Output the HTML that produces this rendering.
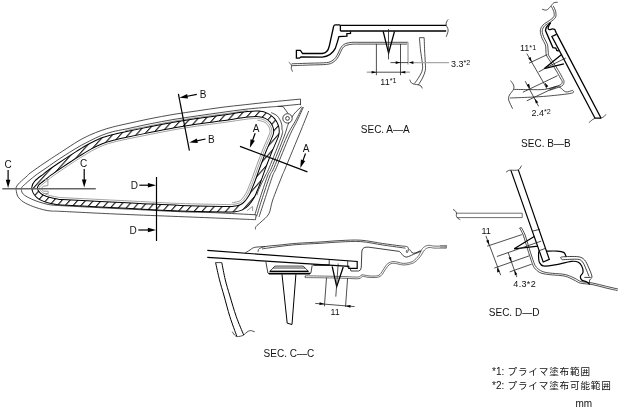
<!DOCTYPE html>
<html><head><meta charset="utf-8"><title>Quarter window glass sections</title>
<style>
html,body{margin:0;padding:0;background:#fff;}
body{width:622px;height:413px;overflow:hidden;font-family:"Liberation Sans","Noto Sans CJK JP",sans-serif;}
svg{display:block;position:absolute;left:0;top:0;will-change:transform}
svg text{font-family:"Liberation Sans","Noto Sans CJK JP",sans-serif;fill:#111;}
.k{fill:none;stroke:#111;stroke-width:.8}
.t{fill:none;stroke:#222;stroke-width:.8}
.g{fill:none;stroke:#888;stroke-width:1.1}
.b{fill:none;stroke:#000;stroke-width:1.3}
.a{fill:#000;stroke:none}
.gi{fill:none;stroke:#999;stroke-width:.9}
.t3{fill:none;stroke:#333;stroke-width:.7}
.g3{fill:none;stroke:#a8a8a8;stroke-width:1.4}
.t2{fill:none;stroke:#555;stroke-width:.6}
.k1{fill:none;stroke:#000;stroke-width:1}
.g2{fill:none;stroke:#999;stroke-width:1}
.k2{fill:none;stroke:#000;stroke-width:1.2}
.s{fill:none;stroke:#666;stroke-width:1.5}
.w{fill:#fff;stroke:#111;stroke-width:.8}
</style></head><body>
<svg width="622" height="413" viewBox="0 0 622 413">
<defs>
<pattern id="hatch" patternUnits="userSpaceOnUse" width="7.89" height="8" patternTransform="skewX(-41.7)">
<rect width="7.89" height="8" fill="#fff"/><rect x="3.1" y="0" width="1.35" height="8" fill="#000"/>
</pattern>
</defs>
<path class="t" d="M300.5 99.1 C295.42 99.58 279.22 101.07 270 102 C260.78 102.93 253.2 103.82 245.2 104.7 C237.2 105.58 230 106.27 222 107.3 C214 108.33 205.2 109.73 197.2 110.9 C189.2 112.07 182 112.97 174 114.3 C166 115.63 157.2 117.29 149.2 118.9 C141.2 120.51 132.07 122.6 126 123.95 C119.93 125.3 116.93 125.91 112.8 127 C108.67 128.09 105.07 129.13 101.2 130.5 C97.33 131.87 93.47 133.42 89.6 135.2 C85.73 136.98 82.52 138.53 78 141.2 C73.48 143.87 66.88 148.37 62.5 151.2 C58.12 154.03 55.32 155.82 51.7 158.2 C48.08 160.58 44.42 163 40.8 165.5 C37.18 168 32.23 171.5 30 173.2 C27.77 174.9 29.13 174.12 27.4 175.7 C25.67 177.28 21.45 180.82 19.6 182.7 C17.75 184.58 16.87 185.73 16.3 187 C15.73 188.27 15.93 188.72 16.2 190.3 C16.47 191.88 16.72 194.57 17.9 196.5 C19.08 198.43 20.73 200.22 23.3 201.9 C25.87 203.58 29.68 205.23 33.3 206.6 C36.92 207.97 41.77 209.35 45 210.1 C48.23 210.85 49.87 210.88 52.7 211.1 C55.53 211.32 50.78 210.88 62 211.4 C73.22 211.92 93.67 213.07 120 214.2 C146.33 215.33 197.42 217.28 220 218.2 C242.58 219.12 249.58 219.45 255.5 219.7"/>
<path class="t" d="M300.5 104.2 C296.7 104.57 282.78 105.93 277.7 106.4 C272.62 106.87 275.42 106.52 270 107 C264.58 107.48 253.2 108.4 245.2 109.3 C237.2 110.2 230 111.3 222 112.4 C214 113.5 205.2 114.73 197.2 115.9 C189.2 117.07 182 118.05 174 119.4 C166 120.75 157.2 122.4 149.2 124 C141.2 125.6 132.07 127.72 126 129 C119.93 130.28 116.93 130.62 112.8 131.7 C108.67 132.78 105.07 133.95 101.2 135.5 C97.33 137.05 93.47 139.05 89.6 141 C85.73 142.95 82.77 144.4 78 147.2 C73.23 150 66.33 154.32 61 157.8 C55.67 161.28 50.32 165.12 46 168.1 C41.68 171.08 38.47 173.13 35.1 175.7 C31.73 178.27 28.03 181.53 25.8 183.5 C23.57 185.47 22.43 186.37 21.7 187.5 C20.97 188.63 21.13 189.18 21.4 190.3 C21.67 191.42 21.95 192.9 23.3 194.2 C24.65 195.5 26.92 196.82 29.5 198.1 C32.08 199.38 35.58 200.82 38.8 201.9 C42.02 202.98 45.83 204.02 48.8 204.6 C51.77 205.18 54.4 205.22 56.6 205.4 C58.8 205.58 54.77 205.32 62 205.7 C69.23 206.08 87 207.03 100 207.7 C113 208.37 126.67 209.03 140 209.7 C153.33 210.37 167.5 211.2 180 211.7 C192.5 212.2 202.3 212.18 215 212.7 C227.7 213.22 249.33 214.45 256.2 214.8"/>
<path class="t" d="M300.5 99.1 L300.5 105.2"/>
<path class="t" d="M277.7 106.4 L283.1 106.6 L287.9 113.2"/>
<path class="t" d="M256.2 214.8 L255.5 219.7"/>
<path class="gi" d="M91.84 150.83 C95.59 148.79 99.24 146.93 102.93 145.47 C106.63 144 110 143.1 114.01 142.04 C118.02 140.98 120.96 140.37 126.97 139.1 C132.99 137.83 142.14 135.99 150.11 134.41 C158.09 132.83 166.86 131.04 174.82 129.63 C182.78 128.22 189.91 127.11 197.88 125.95 C205.85 124.79 214.2 123.82 222.64 122.66 C231.08 121.49 242.53 119.65 248.52 118.97 C254.51 118.29 255.94 118.39 258.6 118.58 C261.25 118.78 262.76 119.33 264.46 120.14 C266.16 120.94 267.66 122.14 268.79 123.43 C269.92 124.72 270.75 126.67 271.24 127.85 C271.72 129.03 271.71 129.4 271.7 130.5 C271.69 131.6 272.34 131.23 271.17 134.44 C269.99 137.64 266.77 144.47 264.64 149.74 C262.51 155.01 260.28 160.96 258.39 166.07 C256.5 171.17 254.65 176.72 253.3 180.36 C251.94 183.99 251.25 185.54 250.27 187.87 C249.29 190.2 248.63 192.25 247.44 194.33 C246.24 196.41 244.41 198.92 243.1 200.36 C241.78 201.8 241.22 202.3 239.56 202.98 C237.89 203.65 235.67 204.17 233.09 204.43 C230.51 204.68 232.9 204.65 224.08 204.5 C215.26 204.35 194.14 204 180.17 203.5 C166.19 203 153.56 202.17 140.23 201.51 C126.91 200.84 113.23 200.16 100.23 199.51 C87.24 198.86 69.34 198 62.26 197.61 C55.18 197.22 59.66 197.47 57.74 197.16 C55.82 196.85 52.96 196.37 50.75 195.77 C48.54 195.17 46 194.21 44.48 193.54 C42.96 192.86 42.42 192.38 41.64 191.7 C40.86 191.03 40.19 190.05 39.79 189.48 C39.39 188.9 39.13 188.82 39.24 188.24 C39.35 187.66 39.03 187.34 40.45 186 C41.86 184.65 45.81 181.71 47.75 180.16 C49.68 178.61 49.4 178.62 52.05 176.71 C54.7 174.8 60.19 171.03 63.64 168.69 C67.09 166.34 69.96 164.47 72.77 162.64 C75.57 160.8 77.29 159.66 80.47 157.7 C83.65 155.73 88.1 152.87 91.84 150.83Z"/>
<path class="t2" d="M257.33 120.18 C258.38 120.44 261.99 121.02 263.68 121.76 C265.37 122.5 266.47 123.5 267.45 124.63 C268.43 125.76 269.16 127.55 269.57 128.52 C269.98 129.5 269.92 129.61 269.9 130.5 C269.88 131.39 270.62 130.75 269.47 133.84 C268.31 136.93 265.1 143.8 262.97 149.07 C260.85 154.33 258.6 160.33 256.7 165.44 C254.81 170.55 252.96 176.11 251.61 179.73 C250.26 183.35 249.57 184.89 248.61 187.17 C247.66 189.46 247.02 191.44 245.88 193.43 C244.75 195.42 242.97 197.8 241.79 199.12 C240.62 200.43 240.46 200.71 238.85 201.32 C237.24 201.93 233.26 202.53 232.14 202.77"/>
<path class="t2" d="M125.25 130.78 C129.11 129.99 140.45 127.66 148.46 126.07 C156.48 124.49 165.31 122.68 173.34 121.26 C181.37 119.84 188.63 118.71 196.65 117.54 C204.68 116.37 213.01 115.4 221.48 114.24 C229.95 113.07 243.13 111.15 247.46 110.54"/>
<path class="k" d="M89.6 146.7 C93.47 144.6 97.33 142.63 101.2 141.1 C105.07 139.57 108.67 138.6 112.8 137.5 C116.93 136.4 119.93 135.78 126 134.5 C132.07 133.22 141.2 131.38 149.2 129.8 C157.2 128.22 166 126.42 174 125 C182 123.58 189.2 122.47 197.2 121.3 C205.2 120.13 213.53 119.17 222 118 C230.47 116.83 241.83 114.98 248 114.3 C254.17 113.62 255.92 113.63 259 113.9 C262.08 114.17 264.28 114.83 266.5 115.9 C268.72 116.97 270.78 118.6 272.3 120.3 C273.82 122 274.92 124.4 275.6 126.1 C276.28 127.8 276.4 128.85 276.4 130.5 C276.4 132.15 276.83 132.5 275.6 136 C274.37 139.5 271.13 146.22 269 151.5 C266.87 156.78 264.68 162.62 262.8 167.7 C260.92 172.78 259.07 178.33 257.7 182 C256.33 185.67 255.63 187.25 254.6 189.7 C253.57 192.15 252.85 194.38 251.5 196.7 C250.15 199.02 248.18 201.83 246.5 203.6 C244.82 205.37 243.55 206.38 241.4 207.3 C239.25 208.22 236.5 208.78 233.6 209.1 C230.7 209.42 232.93 209.35 224 209.2 C215.07 209.05 194 208.7 180 208.2 C166 207.7 153.33 206.87 140 206.2 C126.67 205.53 113 204.85 100 204.2 C87 203.55 69.17 202.7 62 202.3 C54.83 201.9 59.08 202.13 57 201.8 C54.92 201.47 51.92 200.97 49.5 200.3 C47.08 199.63 44.33 198.65 42.5 197.8 C40.67 196.95 39.65 196.23 38.5 195.2 C37.35 194.17 36.25 192.88 35.6 191.6 C34.95 190.32 34.37 188.97 34.6 187.5 C34.83 186.03 35.3 184.63 37 182.8 C38.7 180.97 42.75 178.15 44.8 176.5 C46.85 174.85 46.6 174.85 49.3 172.9 C52 170.95 57.52 167.17 61 164.8 C64.48 162.43 67.37 160.55 70.2 158.7 C73.03 156.85 74.77 155.7 78 153.7 C81.23 151.7 85.73 148.8 89.6 146.7Z" style="stroke:#000;stroke-width:6.6"/>
<path class="k" d="M89.6 146.7 C93.47 144.6 97.33 142.63 101.2 141.1 C105.07 139.57 108.67 138.6 112.8 137.5 C116.93 136.4 119.93 135.78 126 134.5 C132.07 133.22 141.2 131.38 149.2 129.8 C157.2 128.22 166 126.42 174 125 C182 123.58 189.2 122.47 197.2 121.3 C205.2 120.13 213.53 119.17 222 118 C230.47 116.83 241.83 114.98 248 114.3 C254.17 113.62 255.92 113.63 259 113.9 C262.08 114.17 264.28 114.83 266.5 115.9 C268.72 116.97 270.78 118.6 272.3 120.3 C273.82 122 274.92 124.4 275.6 126.1 C276.28 127.8 276.4 128.85 276.4 130.5 C276.4 132.15 276.83 132.5 275.6 136 C274.37 139.5 271.13 146.22 269 151.5 C266.87 156.78 264.68 162.62 262.8 167.7 C260.92 172.78 259.07 178.33 257.7 182 C256.33 185.67 255.63 187.25 254.6 189.7 C253.57 192.15 252.85 194.38 251.5 196.7 C250.15 199.02 248.18 201.83 246.5 203.6 C244.82 205.37 243.55 206.38 241.4 207.3 C239.25 208.22 236.5 208.78 233.6 209.1 C230.7 209.42 232.93 209.35 224 209.2 C215.07 209.05 194 208.7 180 208.2 C166 207.7 153.33 206.87 140 206.2 C126.67 205.53 113 204.85 100 204.2 C87 203.55 69.17 202.7 62 202.3 C54.83 201.9 59.08 202.13 57 201.8 C54.92 201.47 51.92 200.97 49.5 200.3 C47.08 199.63 44.33 198.65 42.5 197.8 C40.67 196.95 39.65 196.23 38.5 195.2 C37.35 194.17 36.25 192.88 35.6 191.6 C34.95 190.32 34.37 188.97 34.6 187.5 C34.83 186.03 35.3 184.63 37 182.8 C38.7 180.97 42.75 178.15 44.8 176.5 C46.85 174.85 46.6 174.85 49.3 172.9 C52 170.95 57.52 167.17 61 164.8 C64.48 162.43 67.37 160.55 70.2 158.7 C73.03 156.85 74.77 155.7 78 153.7 C81.23 151.7 85.73 148.8 89.6 146.7Z" style="stroke:url(#hatch);stroke-width:4.6"/>
<path class="g2" d="M45.2 179.6 L47.9 179.6 L47.9 185.6 L43.2 186.2 L41.3 188.5 L43.2 191.2 L48.2 191.2 L48.2 193.5 L43.6 193.5"/>
<path class="g2" d="M247.2 210.6 L252.6 206.4 L252.6 211"/>
<path class="t" d="M271.2 112.6 C272.23 113.18 275.72 114.37 277.4 116.1 C279.08 117.83 280.53 120.82 281.3 123 C282.07 125.18 281.95 127.03 282 129.2 C282.05 131.37 283.73 129.58 281.6 136 C279.47 142.42 271.93 161.03 269.2 167.7 C266.47 174.37 266.98 172.28 265.2 176 C263.42 179.72 259.87 186.8 258.5 190 C257.13 193.2 257.25 194.33 257 195.2"/>
<path class="t" d="M301.5 106.6 C300.2 107.9 295.92 111.47 293.7 114.4 C291.48 117.33 289.77 120.6 288.2 124.2 C286.63 127.8 287.07 128.75 284.3 136 C281.53 143.25 274.4 161.03 271.6 167.7 C268.8 174.37 269.53 170.62 267.5 176 C265.47 181.38 261.48 193.58 259.4 200 C257.32 206.42 255.73 212.08 255 214.5"/>
<path class="t" d="M302.4 107.1 C301.33 109.23 298.57 115.08 296 119.9 C293.43 124.72 290.67 128.03 287 136 C283.33 143.97 276.87 161.03 274 167.7 C271.13 174.37 271.85 170.62 269.8 176 C267.75 181.38 263.8 193.58 261.7 200 C259.6 206.42 258.02 211.83 257.2 214.5 C256.38 217.17 256.87 215.75 256.8 216"/>
<path class="t" d="M303.4 107.1 C302.43 109.23 299.92 115.08 297.6 119.9 C295.28 124.72 293.03 128.03 289.5 136 C285.97 143.97 279.23 161.03 276.4 167.7 C273.57 174.37 274.47 170.62 272.5 176 C270.53 181.38 266.68 193.67 264.6 200 C262.52 206.33 260.93 211.17 260 214 C259.07 216.83 259.17 216.5 259 217"/>
<path class="t" d="M308.7 111 C307.43 114.17 305.05 120.33 301.1 130 C297.15 139.67 288.18 161.33 285 169 C281.82 176.67 284.05 170.83 282 176 C279.95 181.17 274.88 193.72 272.7 200 C270.52 206.28 270.85 210.03 268.9 213.7 C266.95 217.37 263.15 219.87 261 222 C258.85 224.13 256.92 225.27 256 226.5 C255.08 227.73 255.58 228.92 255.5 229.4"/>
<circle class="w" cx="287.5" cy="118.4" r="4.7"/>
<circle class="w" cx="287.5" cy="118.4" r="1.9"/>
<path class="s" d="M2.3 188.8 L95.8 188.8"/>
<path class="k2" d="M178.4 93.9 L189.4 150.6"/>
<path class="k2" d="M240 146.4 L307.4 171.9"/>
<path class="k2" d="M156.5 177 L156.5 241"/>
<path class="b" d="M340.4 25.3 L446.2 25.3"/>
<path class="b" d="M340.4 31 L446.2 31"/>
<path class="b" d="M340.4 31 L340.4 26.4 Q340.3 24.8 339.3 24.8 L335.5 24.8 Q333.9 24.8 333.6 26.5 L330.2 42 L329.3 46 Q327.8 53 322.2 53.5 L302.6 53.5 L300.4 50.3 L296.4 50.3 L296.4 58.2 L299.3 58.2 L301.1 56.9 L322.2 57.1 Q331 56.5 335.3 48.4 Q337.5 42 338.9 36.6 L346.9 36.2 L346.9 33.7 L350.5 33.4 L350.5 31.2"/>
<path class="t" d="M291.7 63.8 C294.75 63.7 304.18 63.4 310 63.2 C315.82 63 322.93 63 326.6 62.6 C330.27 62.2 330.48 61.65 332 60.8 C333.52 59.95 334.67 58.8 335.7 57.5 C336.73 56.2 337.45 54.45 338.2 53 C338.95 51.55 339.48 50.03 340.2 48.8 C340.92 47.57 341.6 46.47 342.5 45.6 C343.4 44.73 344.15 44.13 345.6 43.6 C347.05 43.07 349.13 42.62 351.2 42.4 C353.27 42.18 356.87 42.32 358 42.3 L408 42.3"/>
<path class="t" d="M291.7 65.7 C294.75 65.58 304.18 65.22 310 65 C315.82 64.78 322.77 64.83 326.6 64.4 C330.43 63.97 331.27 63.37 333 62.4 C334.73 61.43 335.88 60 337 58.6 C338.12 57.2 338.93 55.45 339.7 54 C340.47 52.55 340.92 51.1 341.6 49.9 C342.28 48.7 342.93 47.58 343.8 46.8 C344.67 46.02 345.43 45.63 346.8 45.2 C348.17 44.77 350.13 44.38 352 44.2 C353.87 44.02 357 44.12 358 44.1 L407.2 44.1"/>
<path class="t" d="M288.8 62.2 C289.08 62.47 290.05 63.25 290.5 63.8 C290.95 64.35 291.37 64.72 291.5 65.5 C291.63 66.28 291.12 67.48 291.3 68.5 C291.48 69.52 292.38 71.08 292.6 71.6"/>
<path class="g3" d="M408 42.3 L408 64.6"/>
<path class="t" d="M419.4 37.7 C419.58 39.75 420.02 45.78 420.5 50 C420.98 54.22 422 59.67 422.3 63 C422.6 66.33 422.85 67.67 422.3 70 C421.75 72.33 420.3 74.75 419 77 C417.7 79.25 415.25 82.42 414.5 83.5"/>
<path class="t" d="M424.2 37.7 C424.27 39.75 424.42 45.78 424.6 50 C424.78 54.22 425.18 59.58 425.3 63 C425.42 66.42 425.77 68 425.3 70.5 C424.83 73 423.65 75.6 422.5 78 C421.35 80.4 419.08 83.75 418.4 84.9"/>
<path class="t" d="M419.4 37.7 L424.2 37.7"/>
<path class="t" d="M409.7 79.7 C410 80.25 410.7 82.25 411.5 83 C412.3 83.75 413.35 83.88 414.5 84.2 C415.65 84.52 417.32 84.6 418.4 84.9 C419.48 85.2 420.35 85.42 421 86 C421.65 86.58 422.08 88 422.3 88.4"/>
<path class="t" d="M448.2 19.4 C447.92 19.83 446.83 21.02 446.5 22 C446.17 22.98 445.98 24.22 446.2 25.3 C446.42 26.38 447.5 27.47 447.8 28.5 C448.1 29.53 448.27 30.12 448 31.5 C447.73 32.88 446.5 35.92 446.2 36.8"/>
<path class="b" d="M383.2 31.4 L388.6 53.2 L394.5 31.4"/>
<path class="t" d="M388.5 29 L388.5 59.3"/>
<path class="t" d="M376.4 44 L376.4 75.2"/>
<path class="t" d="M400.5 44 L400.5 75.2"/>
<path class="g3" d="M366.8 72.2 L372 72.2"/>
<path class="t" d="M372 72.2 L405 72.2"/>
<path class="g3" d="M405 72.2 L409.9 72.2"/>
<path class="a" d="M376.4 72.2 L371.6 73.5 L371.6 70.9Z"/>
<path class="a" d="M400.5 72.2 L405.3 70.9 L405.3 73.5Z"/>
<path class="t" d="M390.5 62.6 L408 62.6"/>
<path class="g3" d="M412.5 62.6 L449 62.6"/>
<path class="a" d="M400.5 62.6 L395.7 63.9 L395.7 61.3Z"/>
<path class="a" d="M408.6 62.6 L413.4 61.3 L413.4 63.9Z"/>
<path class="t" d="M542.2 9.3 C542.95 9.42 545.3 10.48 546.7 10 C548.1 9.52 549.42 7.6 550.6 6.4 C551.78 5.2 552.62 3.48 553.8 2.8 C554.98 2.12 557.05 2.38 557.7 2.3"/>
<path class="t" d="M551.2 6.2 C551.63 7.1 553.37 9.85 553.8 11.6 C554.23 13.35 554.55 15.2 553.8 16.7 C553.05 18.2 551.12 19.2 549.3 20.6 C547.48 22 544.4 23.38 542.9 25.1 C541.4 26.82 540.42 28.65 540.3 30.9 C540.18 33.15 541.35 36.25 542.2 38.6 C543.05 40.95 544.77 42.65 545.4 45 C546.03 47.35 545.77 50.87 546 52.7 C546.23 54.53 545.92 54.28 546.8 56 C547.68 57.72 549.7 60.5 551.3 63 C552.9 65.5 554.9 68.5 556.4 71 C557.9 73.5 559.33 76.25 560.3 78 C561.27 79.75 562.08 80.43 562.2 81.5 C562.32 82.57 561.97 83.6 561 84.4 C560.03 85.2 558.45 85.55 556.4 86.3 C554.35 87.05 549.98 88.47 548.7 88.9"/>
<path class="t" d="M553.2 5.8 C553.62 6.77 555.32 9.67 555.7 11.6 C556.08 13.53 556.35 15.68 555.5 17.4 C554.65 19.12 552.38 20.52 550.6 21.9 C548.82 23.28 546.2 24.2 544.8 25.7 C543.4 27.2 542.32 28.87 542.2 30.9 C542.08 32.93 543.23 35.65 544.1 37.9 C544.97 40.15 546.7 41.93 547.4 44.4 C548.1 46.87 548.03 50.77 548.3 52.7 C548.57 54.63 548.17 54.37 549 56 C549.83 57.63 551.73 60.08 553.3 62.5 C554.87 64.92 556.9 68 558.4 70.5 C559.9 73 561.37 75.67 562.3 77.5 C563.23 79.33 563.97 80.17 564 81.5 C564.03 82.83 563.67 84.45 562.5 85.5 C561.33 86.55 559.17 87.02 557 87.8 C554.83 88.58 550.75 89.8 549.5 90.2"/>
<path class="b" d="M550.8 22.5 C550.47 23.05 549.25 24.8 548.8 25.8 C548.35 26.8 547.98 27.85 548.1 28.5 C548.22 29.15 548.78 29.63 549.5 29.7 C550.22 29.77 551.52 28.93 552.4 28.9 C553.28 28.87 554.4 29.4 554.8 29.5 L556.1 32.6 L601.1 118.2"/>
<path class="b" d="M550.5 22.9 C549.85 23.55 547.43 25.52 546.6 26.8 C545.77 28.08 545.68 29.97 545.5 30.6 L552.9 47.6 L555.8 48.1 L556.8 50.5 L558.7 51"/>
<path class="b" d="M556.5 34.3 L551.9 36.5 L595 118.2 L601.1 118.2"/>
<path class="t" d="M588.9 122.7 C589.53 122.17 591.63 120.25 592.7 119.5 C593.77 118.75 594.87 118.42 595.3 118.2"/>
<path class="t" d="M601.1 118.2 C601.63 117.88 603.5 116.93 604.3 116.3 C605.1 115.67 605.63 114.72 605.9 114.4"/>
<path class="b" d="M561.9 54.2 L544.1 68.7 L563.9 63.9"/>
<path class="t" d="M544.1 68.7 L565.8 58"/>
<path class="t" d="M529 63.2 L547.4 54.5"/>
<path class="t" d="M538.7 71.9 L544 69"/>
<path class="t" d="M522.9 92.2 L557.5 75.7"/>
<path class="t" d="M526.8 100.8 L556.7 86.7"/>
<path class="t" d="M526.8 53.6 L547.2 89"/>
<path class="t" d="M525.2 81.2 L538.6 106.3"/>
<path class="t" d="M510.6 80.6 C511.08 81.33 513.02 83.53 513.5 85 C513.98 86.47 514.17 87.73 513.5 89.4 C512.83 91.07 510.3 93.23 509.5 95 C508.7 96.77 508.18 97.72 508.7 100 C509.22 102.28 511.95 107.25 512.6 108.7"/>
<path class="t" d="M513.5 89.4 C516.25 89.43 524.83 89.6 530 89.6 C535.17 89.6 540.17 89.92 544.5 89.4 C548.83 88.88 554.08 86.98 556 86.5"/>
<path class="t" d="M556 86.5 C556.67 86.65 558.37 86.5 560 87.4 C561.63 88.3 563.7 91.42 565.8 91.9 C567.9 92.38 571.47 90.57 572.6 90.3"/>
<path class="t" d="M509.7 98 C513.08 97.87 523.55 97.53 530 97.2 C536.45 96.87 541.47 96.67 548.4 96 C555.33 95.33 567.57 94.15 571.6 93.2 C575.63 92.25 572.43 90.78 572.6 90.3"/>
<path class="k2" d="M207.3 250.4 L357.2 261.5 L357.2 268.3 L348.8 268.3 L348.8 266.3 L329.4 265.1 L313.3 265.1"/>
<path class="k2" d="M207.3 257.3 L329.4 265.1"/>
<path class="k" d="M329.2 259.5 L329.2 265.5"/>
<path class="k" d="M347.7 260.8 L347.7 267.6"/>
<path class="t" d="M244.8 253.2 C245.67 252.67 248.38 250.97 250 250 C251.62 249.03 251.93 247.98 254.5 247.4 C257.07 246.82 263.58 246.65 265.4 246.5"/>
<path class="t" d="M258.1 251.8 C258.13 251.5 258.02 250.57 258.3 250 C258.58 249.43 258.62 248.98 259.8 248.4 C260.98 247.82 262.03 247.07 265.4 246.5 C268.77 245.93 274.75 245.53 280 245 C285.25 244.47 290.23 243.8 296.9 243.3 C303.57 242.8 312.82 242.45 320 242 C327.18 241.55 333.18 240.9 340 240.6 C346.82 240.3 353.78 239.72 360.9 240.2 C368.02 240.68 376.18 242.57 382.7 243.5 C389.22 244.43 396.03 245.3 400 245.8 C403.97 246.3 405.1 246.1 406.5 246.5 C407.9 246.9 408.15 247.45 408.4 248.2 C408.65 248.95 408.23 250.23 408 251 C407.77 251.77 407.28 252.77 407 252.8 C406.72 252.83 406.3 251.7 406.3 251.2 C406.3 250.7 406.88 250.03 407 249.8"/>
<path class="t" d="M262 248.9 C265 248.48 274.18 247.12 280 246.4 C285.82 245.68 290.23 245.12 296.9 244.6 C303.57 244.08 312.82 243.73 320 243.3 C327.18 242.87 333.18 242.28 340 242 C346.82 241.72 353.78 241.1 360.9 241.6 C368.02 242.1 376.18 244.03 382.7 245 C389.22 245.97 396.2 246.87 400 247.4 C403.8 247.93 404.58 248.07 405.5 248.2"/>
<path class="k" d="M350.2 268 L350.9 271 L358.6 271 Q361.2 270.6 361.3 267 L361.8 252 Q362 247.5 366 247.2 L368.9 247.2 L399.3 251.4 399.3 251.4 C399.67 251.75 400.85 252.78 401.5 253.5 C402.15 254.22 402.28 255.12 403.2 255.7 C404.12 256.28 405.3 257.22 407 257 C408.7 256.78 411.03 255.37 413.4 254.4 C415.77 253.43 419.9 251.73 421.2 251.2"/>
<path class="t3" d="M305.2 275.8 C308.42 275.85 317.87 275.97 324.5 276.1 C331.13 276.23 339.35 276.45 345 276.6 C350.65 276.75 355.57 277.3 358.4 277 C361.23 276.7 360.4 275 362 274.8 C363.6 274.6 365.77 275.6 368 275.8 C370.23 276 373.4 276.23 375.4 276 C377.4 275.77 378.57 275.65 380 274.4 C381.43 273.15 382.72 270.3 384 268.5 C385.28 266.7 386.22 264.77 387.7 263.6 C389.18 262.43 391.18 261.72 392.9 261.5 C394.62 261.28 396.28 261.98 398 262.3 C399.72 262.62 401.45 263.32 403.2 263.4 C404.95 263.48 406.8 263.22 408.5 262.8 C410.2 262.38 411.72 262.08 413.4 260.9 C415.08 259.72 417.1 257.75 418.6 255.7 C420.1 253.65 420.9 250.32 422.4 248.6 C423.9 246.88 425.67 245.82 427.6 245.4 C429.53 244.98 431.85 245.98 434 246.1 C436.15 246.22 438.47 246.07 440.5 246.1 C442.53 246.13 445.25 246.27 446.2 246.3"/>
<path class="t3" d="M305.2 277.6 C308.42 277.63 317.87 277.68 324.5 277.8 C331.13 277.92 339.27 278.15 345 278.3 C350.73 278.45 356 279.02 358.9 278.7 C361.8 278.38 360.88 276.63 362.4 276.4 C363.92 276.17 365.75 277.12 368 277.3 C370.25 277.48 373.7 277.78 375.9 277.5 C378.1 277.22 379.62 276.93 381.2 275.6 C382.78 274.27 384.1 271.28 385.4 269.5 C386.7 267.72 387.75 265.95 389 264.9 C390.25 263.85 391.4 263.35 392.9 263.2 C394.4 263.05 396.28 263.7 398 264 C399.72 264.3 401.37 264.95 403.2 265 C405.03 265.05 407.08 264.77 409 264.3 C410.92 263.83 412.82 263.48 414.7 262.2 C416.58 260.92 418.67 258.63 420.3 256.6 C421.93 254.57 423.05 251.52 424.5 250 C425.95 248.48 427.42 247.82 429 247.5 C430.58 247.18 432.08 248 434 248.1 C435.92 248.2 438.47 248.08 440.5 248.1 C442.53 248.12 445.25 248.18 446.2 248.2"/>
<path class="t" d="M446.2 246.3 L446.2 248.2"/>
<path class="k" d="M409.6 249.3 C409.83 249.67 410.37 250.85 411 251.5 C411.63 252.15 412.4 253.07 413.4 253.2 C414.4 253.33 415.82 252.73 417 252.3 C418.18 251.87 419.92 250.88 420.5 250.6"/>
<path class="t" d="M305.2 275.8 L305.2 277.6"/>
<path class="k1" d="M215.6 262.6 C216.25 265.48 218.08 274.33 219.5 279.9 C220.92 285.47 222.37 289.87 224.1 296 C225.83 302.13 227.78 310 229.9 316.7 C232.02 323.4 235.65 332.95 236.8 336.2"/>
<path class="k1" d="M221.8 262.6 C222.38 265.48 223.95 274.33 225.3 279.9 C226.65 285.47 228.07 289.87 229.9 296 C231.73 302.13 234 310.2 236.3 316.7 C238.6 323.2 242.47 331.95 243.7 335"/>
<path class="k" d="M215.6 262.6 L221.8 262.6"/>
<path class="t" d="M232.2 331.6 C232.58 332.17 233.73 334.17 234.5 335 C235.27 335.83 235.8 336.4 236.8 336.6 C237.8 336.8 239.35 336.47 240.5 336.2 C241.65 335.93 242.62 335.7 243.7 335 C244.78 334.3 245.87 332.73 247 332 C248.13 331.27 249.22 330.63 250.5 330.6 C251.78 330.57 254 331.6 254.7 331.8"/>
<path class="k" d="M265.9 262 L267.9 273 L269.2 274.2 L309.6 274.2 L310.9 273 L312.2 265.2"/>
<path class="k2" d="M268.6 273.4 L310.2 273.4"/>
<path class="k" d="M274.9 266.1 L303.2 266.1 L308.4 271.3 L269.8 271.3 Z"/>
<path class="k" d="M273 268 L305.1 268"/>
<path class="k2" d="M269.8 271.4 L308.4 271.4"/>
<path class="k1" d="M282 274.4 L287.2 323.2 L292 324.5 L295.9 274.4"/>
<path class="b" d="M332.2 266.3 L336.7 286.6 L343.2 267"/>
<path class="t" d="M338.2 263.5 L335.8 296.6"/>
<path class="t" d="M326.5 277.8 L324.4 306.3"/>
<path class="t" d="M347.6 278.2 L345.5 306.9"/>
<path class="t" d="M315.3 303.4 L354.6 306.6"/>
<path class="a" d="M324.4 304.1 L319.41 305.04 L319.63 302.35Z"/>
<path class="a" d="M345.6 305.9 L350.59 304.96 L350.37 307.65Z"/>
<path class="k2" d="M510.9 170.4 L543.2 262 L549.3 259.4 L518.3 169.9"/>
<path class="k" d="M538 251.1 L545.1 248.5"/>
<path class="k" d="M532.9 231 L539.9 229.3"/>
<path class="t" d="M506.1 172.2 C506.47 171.93 507.5 170.93 508.3 170.6 C509.1 170.27 509.87 170.25 510.9 170.2 C511.93 170.15 513.27 170.35 514.5 170.3 C515.73 170.25 517.35 170.28 518.3 169.9 C519.25 169.52 519.67 168.72 520.2 168 C520.73 167.28 521.28 166 521.5 165.6"/>
<path class="t" d="M453 209.5 C453.33 209.68 454.42 210.02 455 210.6 C455.58 211.18 456.28 212.18 456.5 213 C456.72 213.82 456.17 214.7 456.3 215.5 C456.43 216.3 456.63 217.08 457.3 217.8 C457.97 218.52 459.8 219.47 460.3 219.8"/>
<path class="t3" d="M456.6 213.2 L522.2 213.2 L522.2 217.6 L457 217.6"/>
<path class="g" d="M440 245.5 L446.4 245.5 L446.4 247.3 L440 247.3"/>
<path class="t" d="M519.6 228 C520.2 229.17 521.88 231.5 523.2 235 C524.52 238.5 526 244.28 527.5 249 C529 253.72 531.03 260.13 532.2 263.3 C533.37 266.47 533.32 266.5 534.5 268 C535.68 269.5 537.55 271.3 539.3 272.3 C541.05 273.3 542.85 273.57 545 274 C547.15 274.43 548.87 274.53 552.2 274.9 C555.53 275.27 561.37 275.35 565 276.2 C568.63 277.05 571.42 278.83 574 280 C576.58 281.17 577.5 282.45 580.5 283.2 C583.5 283.95 587.75 283.7 592 284.5 C596.25 285.3 601.75 286.98 606 288 C610.25 289.02 615.58 290.17 617.5 290.6"/>
<path class="t" d="M521.4 227.6 C522.02 228.83 523.78 231.5 525.1 235 C526.42 238.5 527.85 244.05 529.3 248.6 C530.75 253.15 532.65 259.23 533.8 262.3 C534.95 265.37 535.08 265.62 536.2 267 C537.32 268.38 538.95 269.7 540.5 270.6 C542.05 271.5 543.5 271.95 545.5 272.4 C547.5 272.85 549.17 272.93 552.5 273.3 C555.83 273.67 561.75 273.75 565.5 274.6 C569.25 275.45 572.38 277.23 575 278.4 C577.62 279.57 578.28 280.83 581.2 281.6 C584.12 282.37 588.28 282.2 592.5 283 C596.72 283.8 602.25 285.4 606.5 286.4 C610.75 287.4 616.08 288.57 618 289"/>
<path class="t" d="M519.6 228 L521.4 227.6"/>
<path class="k2" d="M538.7 251.4 C538.68 252.4 538.47 255.55 538.6 257.4 C538.73 259.25 538.73 261.08 539.5 262.5 C540.27 263.92 540.88 265.45 543.2 265.9 C545.52 266.35 548.7 265.95 553.4 265.2 C558.1 264.45 567.32 261.93 571.4 261.4 C575.48 260.87 576.18 261.25 577.9 262 C579.62 262.75 580.85 264.18 581.7 265.9 C582.55 267.62 583.2 270.58 583 272.3 C582.8 274.02 580.72 274.92 580.5 276.2 C580.28 277.48 580.63 279.05 581.7 280 C582.77 280.95 585.6 281.15 586.9 281.9 C588.2 282.65 589.07 284.07 589.5 284.5"/>
<path class="k2" d="M546.4 251.1 C548.22 251.1 554.42 250.88 557.3 251.1 C560.18 251.32 562.3 251.65 563.7 252.4 C565.1 253.15 565.27 254.83 565.7 255.6 C566.13 256.37 566.2 256.77 566.3 257"/>
<path class="k" d="M562.4 259.7 C562.15 259.47 560.9 258.77 560.9 258.3 C560.9 257.83 559.57 257.17 562.4 256.9 C565.23 256.63 574.22 256.2 577.9 256.7 C581.58 257.2 582.75 258.18 584.5 259.9 C586.25 261.62 587.22 264.5 588.4 267 C589.58 269.5 591.07 273.05 591.6 274.9 C592.13 276.75 591.92 277.25 591.6 278.1 C591.28 278.95 590.05 278.93 589.7 280 C589.35 281.07 589.53 283.75 589.5 284.5"/>
<path class="k" d="M562.4 259.7 C564.95 259.63 574.35 258.93 577.7 259.3 C581.05 259.67 581.17 260.42 582.5 261.9 C583.83 263.38 584.62 265.78 585.7 268.2 C586.78 270.62 588.45 275.03 589 276.4"/>
<path class="k" d="M584.3 277.4 L590.8 277.4"/>
<path class="k2" d="M534.2 236.6 L514.2 248.8 L538 246.2"/>
<path class="t" d="M487.2 246.2 L521.9 234.6"/>
<path class="t" d="M496.9 256.5 L541.2 241.1"/>
<path class="t" d="M494.3 268.1 L529 255.9"/>
<path class="t" d="M509.7 271.9 L531.6 264.2"/>
<path class="t" d="M485.9 235.9 L500.7 275.2"/>
<path class="t" d="M508.2 252.7 L516.8 277.1"/>
<text x="360.8" y="132.8" font-size="10" text-anchor="start">SEC. A—A</text>
<text x="521.1" y="146.6" font-size="10" text-anchor="start">SEC. B—B</text>
<text x="263.6" y="356.9" font-size="10" text-anchor="start">SEC. C—C</text>
<text x="488.8" y="315.9" font-size="10" text-anchor="start">SEC. D—D</text>
<text x="492" y="375" font-size="10" text-anchor="start">*1: <tspan font-size="9.6" letter-spacing="0.82" dx="0.5">プライマ塗布範囲</tspan></text>
<text x="492" y="389" font-size="10" text-anchor="start">*2: <tspan font-size="9.6" letter-spacing="0.82" dx="0.5">プライマ塗布可能範囲</tspan></text>
<text x="575.4" y="407" font-size="10" text-anchor="start">mm</text>
<text x="252.8" y="131.9" font-size="10" text-anchor="start">A</text>
<path class="k2" d="M255.2 133.2 L252.15 141.54"/>
<path class="a" d="M249.9 147.7 L250.55 139.21 L254.88 140.79Z"/>
<text x="302.8" y="151.6" font-size="10" text-anchor="start">A</text>
<path class="k2" d="M305.5 153.5 L302.51 161.83"/>
<path class="a" d="M300.3 168 L300.9 159.5 L305.23 161.06Z"/>
<text x="199.7" y="98.1" font-size="10" text-anchor="start">B</text>
<path class="k2" d="M196.8 94.4 L185.94 96.47"/>
<path class="a" d="M179.5 97.7 L187.12 93.9 L187.99 98.42Z"/>
<text x="208" y="142.6" font-size="10" text-anchor="start">B</text>
<path class="k2" d="M205.5 139 L195.72 141.05"/>
<path class="a" d="M189.3 142.4 L196.85 138.46 L197.8 142.97Z"/>
<text x="4.6" y="168" font-size="10" text-anchor="start">C</text>
<path class="k2" d="M8.1 170 L8.1 181.44"/>
<path class="a" d="M8.1 188 L5.8 179.8 L10.4 179.8Z"/>
<text x="80.1" y="167" font-size="10" text-anchor="start">C</text>
<path class="k2" d="M84.2 169 L84.2 181.04"/>
<path class="a" d="M84.2 187.6 L81.9 179.4 L86.5 179.4Z"/>
<text x="130.8" y="188.7" font-size="10" text-anchor="start">D</text>
<path class="k2" d="M139.3 185.2 L149.54 185.2"/>
<path class="a" d="M156.1 185.2 L147.9 187.5 L147.9 182.9Z"/>
<text x="129.4" y="233.5" font-size="10" text-anchor="start">D</text>
<path class="k2" d="M138.3 230 L149.54 230"/>
<path class="a" d="M156.1 230 L147.9 232.3 L147.9 227.7Z"/>
<text x="380.3" y="84.6" font-size="9">11<tspan font-size="7.2" dy="-1.5">*1</tspan></text>
<text x="451" y="66.8" font-size="9">3.3<tspan font-size="7.2" dy="-1.5">*2</tspan></text>
<text x="520" y="51" font-size="9">11<tspan font-size="7.2" dy="-1.5">*1</tspan></text>
<text x="531.5" y="115.5" font-size="9">2.4<tspan font-size="7.2" dy="-1.5">*2</tspan></text>
<text x="330.4" y="315.4" font-size="8.8" text-anchor="start">11</text>
<text x="481.4" y="234" font-size="9" text-anchor="start">11</text>
<text x="513.3" y="286.6" font-size="9" text-anchor="start" letter-spacing="0.35">4.3*2</text>
<path class="a" d="M531.8 62 L528.25 58.36 L530.61 57.06Z"/>
<path class="a" d="M544.8 82.6 L548.35 86.24 L545.99 87.54Z"/>
<path class="a" d="M530.3 88.7 L526.75 85.06 L529.11 83.76Z"/>
<path class="a" d="M534.7 98.5 L538.25 102.14 L535.89 103.44Z"/>
<path class="a" d="M489.1 244.9 L486.16 240.76 L488.69 239.83Z"/>
<path class="a" d="M496.9 267.4 L499.84 271.54 L497.31 272.47Z"/>
<path class="a" d="M511.5 262 L508.56 257.86 L511.09 256.93Z"/>
<path class="a" d="M514.4 270.2 L517.34 274.34 L514.81 275.27Z"/>
</svg>
</body></html>
